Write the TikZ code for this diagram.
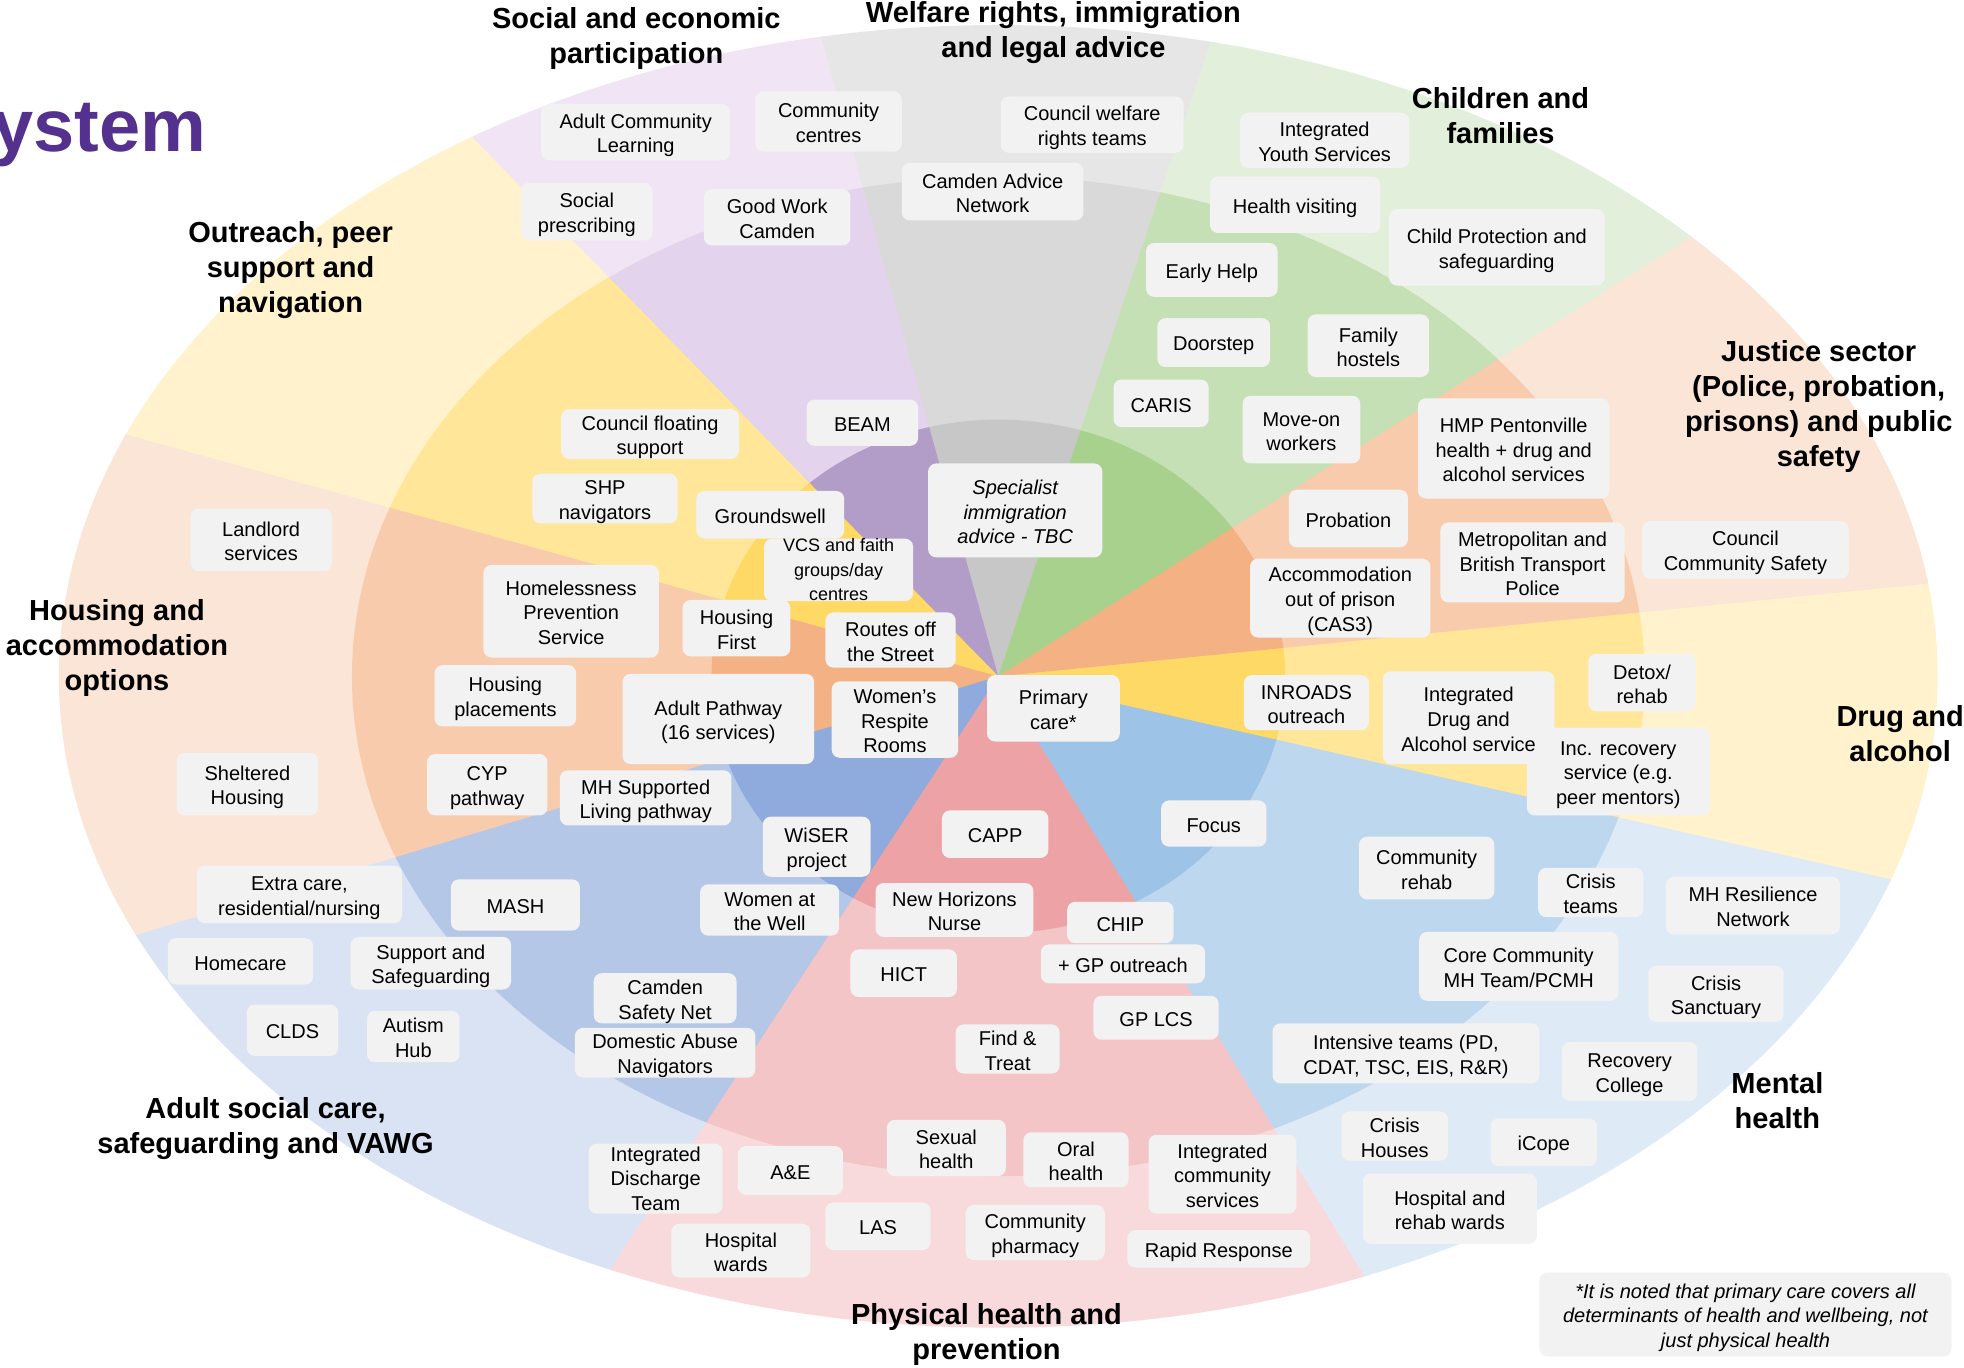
\documentclass[tikz,border=0pt]{standalone}
\usepackage{fontspec}
\setmainfont{Liberation Sans}
\definecolor{welO}{HTML}{E6E6E6}\definecolor{welM}{HTML}{D9D9D9}\definecolor{welI}{HTML}{C7C7C7}
\definecolor{socO}{HTML}{F1E5F5}\definecolor{socM}{HTML}{E3D3EC}\definecolor{socI}{HTML}{B19DC8}
\definecolor{chiO}{HTML}{E2EFDA}\definecolor{chiM}{HTML}{C5E0B4}\definecolor{chiI}{HTML}{A9D18E}
\definecolor{orgO}{HTML}{FBE5D6}\definecolor{orgM}{HTML}{F8CBAD}\definecolor{orgI}{HTML}{F4B183}
\definecolor{yelO}{HTML}{FFF2CC}\definecolor{yelM}{HTML}{FFE699}\definecolor{yelI}{HTML}{FFD966}
\definecolor{menO}{HTML}{DEEBF7}\definecolor{menM}{HTML}{BDD7EE}\definecolor{menI}{HTML}{9DC3E6}
\definecolor{phyO}{HTML}{F9DADC}\definecolor{phyM}{HTML}{F4C5C6}\definecolor{phyI}{HTML}{EDA3A5}
\definecolor{adlO}{HTML}{DAE3F3}\definecolor{adlM}{HTML}{B4C7E7}\definecolor{adlI}{HTML}{8FAADC}
\definecolor{boxg}{HTML}{F2F2F2}
\definecolor{ttlc}{HTML}{54308F}
\newcommand{\sector}[3]{\fill[#1] (C) -- ++(#2:1600) arc[start angle=#2, end angle=#3, radius=1600] -- cycle;}
\newcommand{\ring}[1]{%
 \sector{wel#1}{-70.9}{-105.8}\sector{soc#1}{-105.5}{-134.6}\sector{yel#1}{-134.3}{-164.8}
 \sector{org#1}{-164.5}{-197.0}\sector{adl#1}{163.3}{122.9}\sector{phy#1}{123.2}{58.3}
 \sector{men#1}{58.6}{12.5}\sector{yel#1}{12.8}{-6.0}\sector{org#1}{-5.7}{-32.7}\sector{chi#1}{-32.4}{-71.5}}
\newcommand{\topst}{\rule{0pt}{10.5pt}}
\newcommand{\botst}{\rule[-1.8pt]{0pt}{1.8pt}}
\newcommand{\bx}[6]{\node[box, minimum width={(#4-#2)*0.62628pt}, minimum height={(#5-#3)*0.62628pt}] (#1) at ({(#2+#4)/2},{(#3+#5)/2}) {\topst #6\botst};}
\newcommand{\bxn}[6]{\node[box, minimum width={(#4-#2)*0.62628pt}, minimum height={(#5-#3)*0.62628pt}] (#1) at ({(#2+#4)/2},{(#3+#5)/2}) {#6};}
\begin{document}
\begin{tikzpicture}[x=0.62628pt, y=-0.62628pt,
  box/.style={fill=boxg, rounded corners=4pt, align=center, inner xsep=1pt, inner ysep=0pt, text=black, font=\fontsize{10}{12.3}\selectfont},
  ttl/.style={align=center, inner sep=0pt, text=black, font=\fontsize{14.5}{17.5}\selectfont\bfseries}]
\useasboundingbox (0,0) rectangle (1568,1092);
\coordinate (C) at (797,540);
% rings
\begin{scope}
 \clip (C) ellipse [x radius=750, y radius=520];
 \ring{O}
\end{scope}
\begin{scope}
 \clip (C) ellipse [x radius=516, y radius=399];
 \ring{M}
\end{scope}
\begin{scope}
 \clip (C) ellipse [x radius=229, y radius=205];
 \ring{I}
\end{scope}
% title fragment
\node[anchor=base east, inner sep=0pt, text=ttlc, font=\fontsize{37}{40}\selectfont\bfseries] (sys) at (165,121) {ystem};
% sector titles
\node[ttl] (tSoc) at (508,31) {Social and economic\\participation};
\node[ttl] (tWel) at (841,25.7) {Welfare rights, immigration\\and legal advice};
\node[ttl] (tChi) at (1198,92) {Children and\\families};
\node[ttl] (tOut) at (232,216) {Outreach, peer\\support and\\navigation};
\node[ttl] (tJus) at (1452,324.6) {Justice sector\\(Police, probation,\\prisons) and public\\safety};
\node[ttl] (tHou) at (93.4,517) {Housing and\\accommodation\\options};
\node[ttl] (tDru) at (1517,585.6) {Drug and\\alcohol};
\node[ttl] (tMen) at (1419,878.4) {Mental\\health};
\node[ttl] (tAdl) at (212,900.8) {Adult social care,\\safeguarding and VAWG};
\node[ttl] (tPhy) at (787.6,1065.8) {Physical health and\\prevention};
% boxes
\bx{acl}{432}{83}{583}{128}{Adult Community\\Learning}
\bx{cc}{603}{73}{720}{121}{Community\\centres}
\bx{cwr}{799}{77}{945}{122}{Council welfare\\rights teams}
\bx{can}{720}{130}{865}{176}{Camden Advice\\Network}
\bx{gwc}{562}{151}{679}{196}{Good Work\\Camden}
\bx{sp}{416}{146}{521}{192}{Social\\prescribing}
\bx{iys}{990}{90}{1125}{134}{Integrated\\Youth Services}
\bx{hv}{966}{141}{1102}{186}{Health visiting}
\bx{cps}{1109}{167}{1281}{228}{Child Protection and\\safeguarding}
\bx{eh}{915}{194}{1020}{237}{Early Help}
\bx{ds}{924}{254}{1014}{293}{Doorstep}
\bx{fh}{1044}{251}{1141}{301}{Family\\hostels}
\bx{caris}{889}{303}{965}{341}{CARIS}
\bx{mow}{992}{316}{1086}{370}{Move-on\\workers}
\bx{hmp}{1132}{318}{1285}{398}{HMP Pentonville\\health + drug and\\alcohol services}
\bx{prob}{1029}{391}{1124}{437}{Probation}
\bx{met}{1150}{417}{1297}{481}{Metropolitan and\\British Transport\\Police}
\bx{ccs}{1311}{416}{1476}{462}{Council\\Community Safety}
\bx{acc}{998}{446}{1142}{509}{Accommodation\\out of prison\\(CAS3)}
\bx{sia}{741}{370}{880}{445}{\itshape Specialist\\\itshape immigration\\\itshape advice - TBC}
\bx{beam}{644}{319}{733}{356}{BEAM}
\bx{cfs}{448}{328}{590}{365}{Council floating\\support}
\bx{shp}{425}{379}{541}{417}{SHP\\navigators}
\bx{gw}{556}{392}{674}{430}{Groundswell}
\bxn{vcs}{610}{432}{729}{478}{\fontsize{9}{11}\selectfont VCS and faith\\\fontsize{9}{11}\selectfont groups/day\\\fontsize{9}{11}\selectfont centres}
\bx{hps}{386}{451}{526}{525}{Homelessness\\Prevention\\Service}
\bx{hf}{545}{479}{631}{524}{Housing\\First}
\bx{rots}{659}{489}{763}{533}{Routes off\\the Street}
\bx{hp}{347}{531}{460}{580}{Housing\\placements}
\bx{ap}{497}{538}{650}{610}{Adult Pathway\\(16 services)}
\bx{wrr}{664}{544}{765}{605}{Women’s\\Respite\\Rooms}
\bx{pc}{788}{539}{894}{592}{Primary\\care*}
\bx{inr}{993}{539}{1093}{583}{INROADS\\outreach}
\bx{irs}{1219}{581}{1365}{651}{Inc. recovery\\service (e.g.\\peer mentors)}
\bx{idas}{1104}{536}{1241}{610}{Integrated\\Drug and\\Alcohol service}
\bx{detox}{1268}{522}{1354}{568}{Detox/\\rehab}
\bx{ls}{152}{406}{265}{456}{Landlord\\services}
\bx{sh}{141}{601}{254}{651}{Sheltered\\Housing}
\bx{cyp}{341}{602}{437}{651}{CYP\\pathway}
\bx{mhs}{447}{615}{584}{659}{MH Supported\\Living pathway}
\bx{ec}{157}{691}{321}{737}{Extra care,\\residential/nursing}
\bx{mash}{360}{702}{463}{743}{MASH}
\bx{wiser}{609}{652}{695}{700}{WiSER\\project}
\bx{capp}{752}{647}{837}{685}{CAPP}
\bx{focus}{927}{639}{1011}{676}{Focus}
\bx{waw}{559}{706}{670}{747}{Women at\\the Well}
\bx{nhn}{699}{705}{825}{748}{New Horizons\\Nurse}
\bx{chip}{852}{720}{937}{753}{CHIP}
\bx{gpo}{831}{754}{962}{785}{+ GP outreach}
\bx{hict}{679}{758}{764}{796}{HICT}
\bx{cr}{1085}{668}{1193}{718}{Community\\rehab}
\bx{ct}{1228}{694}{1312}{731}{Crisis\\teams}
\bx{mhr}{1330}{700}{1469}{746}{MH Resilience\\Network}
\bx{ccmh}{1133}{744}{1292}{799}{Core Community\\MH Team/PCMH}
\bx{cs}{1316}{771}{1424}{816}{Crisis\\Sanctuary}
\bx{it}{1016}{817}{1229}{865}{Intensive teams (PD,\\CDAT, TSC, EIS, R\&R)}
\bx{rc}{1247}{832}{1355}{879}{Recovery\\College}
\bx{ft}{763}{819}{846}{856}{Find \&\\Treat}
\bx{gplcs}{873}{795}{973}{830}{GP LCS}
\bx{csn}{474}{777}{588}{817}{Camden\\Safety Net}
\bx{dan}{459}{822}{603}{859}{Domestic Abuse\\Navigators}
\bx{homecare}{134}{749}{250}{786}{Homecare}
\bx{sas}{280}{748}{408}{790}{Support and\\Safeguarding}
\bx{clds}{197}{802}{270}{843}{CLDS}
\bx{ah}{293}{807}{367}{848}{Autism\\Hub}
\bxn{idt}{470}{913}{577}{969}{Integrated\\Discharge\\Team}
\bx{ae}{589}{915}{673}{954}{A\&E}
\bx{sxh}{708}{894}{803}{939}{Sexual\\health}
\bx{oh}{817}{904}{901}{948}{Oral\\health}
\bx{ics}{917}{906}{1035}{969}{Integrated\\community\\services}
\bx{las}{659}{960}{743}{998}{LAS}
\bx{hw}{536}{977}{647}{1020}{Hospital\\wards}
\bx{cph}{771}{962}{882}{1006}{Community\\pharmacy}
\bx{rr}{900}{982}{1046}{1012}{Rapid Response}
\bx{chs}{1071}{889}{1156}{925}{Crisis\\Houses}
\bx{icope}{1190}{893}{1275}{931}{iCope}
\bx{hrw}{1088}{937}{1227}{993}{Hospital and\\rehab wards}
\bx{note}{1229}{1016}{1558}{1083}{\itshape *It is noted that primary care covers all\\\itshape determinants of health and wellbeing, not\\\itshape just physical health}
\end{tikzpicture}
\end{document}
